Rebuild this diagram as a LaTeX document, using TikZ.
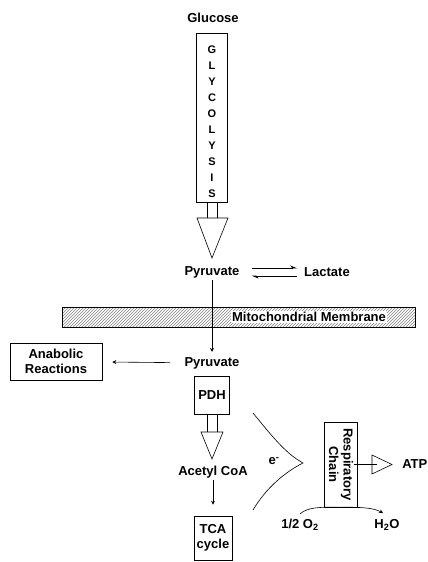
\documentclass[tikz,border=0pt]{standalone}
\usepackage{fontspec}
\setmainfont{Liberation Sans}
\usetikzlibrary{patterns,arrows.meta}

\tikzset{
  lbl/.style={font=\fontsize{13}{14.5}\selectfont\bfseries, inner sep=2pt},
  box/.style={draw, lbl, align=center},
  tip/.style={-{Stealth[length=4pt,width=4pt]}},
  harp/.style={-{Stealth[harpoon,length=6pt,width=5pt]}},
}

\begin{document}
\begin{tikzpicture}[x=1pt,y=-1pt,line width=0.6pt]
  \useasboundingbox (0,0) rectangle (428,562);
  \node[lbl] (glucose) at (213,18) {Glucose};
  \node[draw, minimum width=31, minimum height=169, inner sep=0] (glyc) at (212,117.5) {}; % glycolysis box
  \foreach \l [count=\i] in {G,L,Y,C,O,L,Y,S,I,S}
    \node[font=\fontsize{11}{12}\selectfont\bfseries] (g\i) at (212,34+16*\i) {\l};
  \draw ([xshift=-5pt]glyc.south) -- ++(0,16) ([xshift=5pt]glyc.south) -- ++(0,16); % stem
  \draw (197,218) -- (228,218) -- (212,258) -- cycle; % head

  \node[lbl] (pyr1) at (212,272) {Pyruvate};
  \node[lbl] (lact) at (327,272) {Lactate};
  \draw[harp, shorten <=10pt, shorten >=5pt] ([yshift=4pt]pyr1.east) -- ([yshift=4pt]lact.west);
  \draw[harp, shorten <=5pt, shorten >=10pt] ([yshift=-4pt]lact.west) -- ([yshift=-4pt]pyr1.east);

  % membrane
  \node[draw, pattern=north east lines, pattern color=gray, minimum width=353, minimum height=20, inner sep=0] (memb) at (238.5,317) {};
  \node[lbl, fill=white, inner sep=1pt] (mlbl) at (309,317) {Mitochondrial Membrane};

  \node[lbl] (pyr2) at (212,363) {Pyruvate};
  \draw[tip, shorten >=3pt] (pyr1) -- (pyr2);
  \node[box, minimum width=92, minimum height=37] (anab) at (56,361.5) {Anabolic\\Reactions};
  \draw[tip, shorten <=12pt, shorten >=10pt] (pyr2) -- (anab);

  \node[box, minimum width=35, minimum height=38] (pdh) at (212,395) {PDH};
  \draw ([xshift=-5pt]pdh.south) -- ++(0,18) ([xshift=5pt]pdh.south) -- ++(0,18); % stem
  \draw (201,432) -- (223,432) -- (212,459) -- cycle; % head

  \node[lbl] (acoa) at (213,472) {Acetyl CoA};
  \node[box, minimum width=38, minimum height=44] (tca) at (213,538) {TCA\\cycle};
  \draw[tip, shorten >=11pt] (acoa) -- (tca);

  % electrons
  \draw (253,413) .. controls (272,436) and (285,453) .. (303,463) .. controls (285,472) and (266,488) .. (253,510);
  \node[lbl] (elec) at (274,461) {e\textsuperscript{-}};

  \node[box, rotate=-90, minimum width=85, minimum height=33, inner sep=1pt] (resp) at (341,464.5) {Respiratory\\Chain};
  \draw ([xshift=-4pt]resp.north) -- ++(15,0) ([xshift=4pt]resp.north) -- ++(15,0); % stem (north is right side)
  \draw (372,455) -- (372,474) -- (392,464.5) -- cycle; % head
  \node[lbl, anchor=west] (atp) at (400,464.5) {ATP};

  \node[lbl] (ohalf) at (300,525) {1/2 O\textsubscript{2}};
  \node[lbl] (water) at (387,525) {H\textsubscript{2}O};
  \draw[tip] ([yshift=3pt]ohalf.north) .. controls (308,507) and (320,507) .. (resp.east) % east is bottom side
    .. controls (362,507) and (374,508) .. ([xshift=-4pt,yshift=4pt]water.north);
\end{tikzpicture}
\end{document}
